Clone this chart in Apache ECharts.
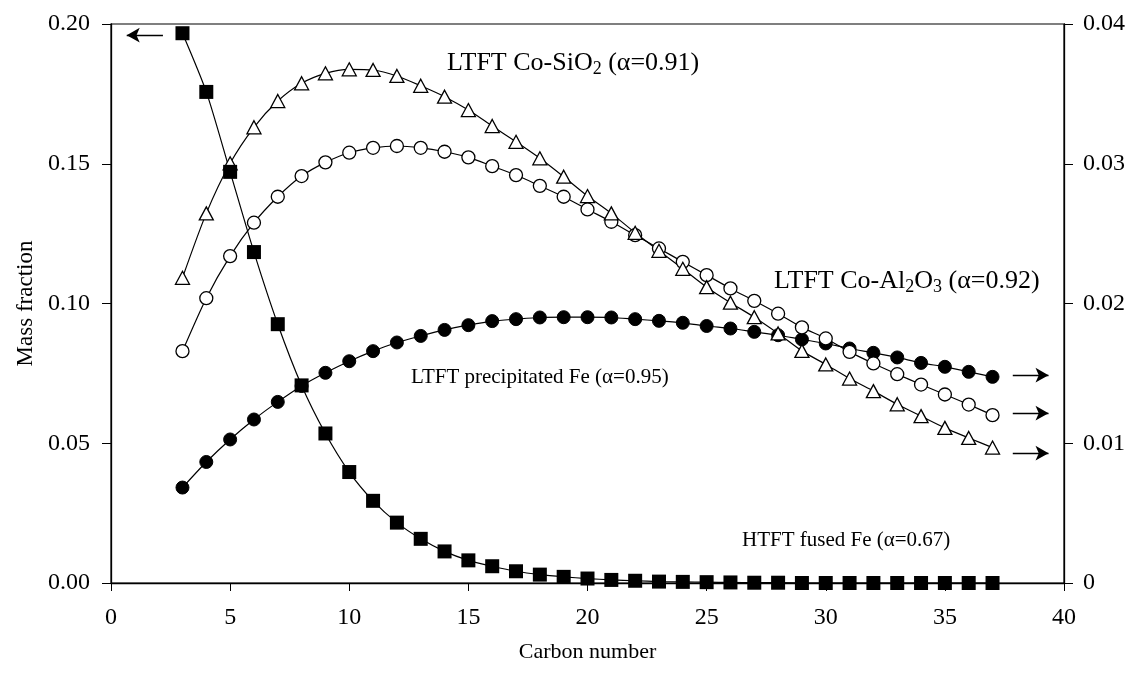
<!DOCTYPE html>
<html>
<head>
<meta charset="utf-8">
<script src="https://cdn.jsdelivr.net/npm/echarts@6/dist/echarts.min.js"></script>
<style>
html,body{margin:0;padding:0;background:#fff;}
#chart{width:1131px;height:673px;}
</style>
</head>
<body>
<div id="chart"></div>
<script>
// Carbon numbers
const carbon = [3,4,5,6,7,8,9,10,11,12,13,14,15,16,17,18,19,20,21,22,23,24,25,26,27,28,29,30,31,32,33,34,35,36,37];
// HTFT fused Fe (alpha=0.67) - left axis
const htftFusedFe = [0.1967,0.1757,0.1471,0.1184,0.0926,0.0707,0.0535,0.0397,0.0294,0.0216,0.0158,0.0113,0.0081,0.0060,0.0042,0.0030,0.0022,0.0016,0.0011,0.0008,0.0005,0.0004,0.0003,0.0002,0.0001,0.0001,0,0,0,0,0,0,0,0,0];
// LTFT Co-SiO2 (alpha=0.91) - right axis
const ltftCoSiO2 = [0.02184,0.02645,0.03003,0.03261,0.03449,0.03576,0.03647,0.03676,0.03671,0.03628,0.03558,0.03480,0.03384,0.03270,0.03157,0.03039,0.02907,0.02769,0.02645,0.02506,0.02377,0.02248,0.02117,0.02006,0.01902,0.01786,0.01661,0.01564,0.01463,0.01373,0.01279,0.01194,0.01110,0.01038,0.00969];
// LTFT Co-Al2O3 (alpha=0.92) - right axis
const ltftCoAl2O3 = [0.01659,0.02038,0.02339,0.02578,0.02764,0.02912,0.03010,0.03079,0.03114,0.03127,0.03114,0.03086,0.03046,0.02983,0.02919,0.02842,0.02764,0.02673,0.02585,0.02489,0.02394,0.02298,0.02203,0.02108,0.02019,0.01927,0.01829,0.01750,0.01654,0.01571,0.01494,0.01420,0.01349,0.01277,0.01201];
// LTFT precipitated Fe (alpha=0.95) - right axis
const ltftPrecipFe = [0.00683,0.00866,0.01027,0.01170,0.01296,0.01410,0.01504,0.01587,0.01659,0.01721,0.01768,0.01811,0.01845,0.01874,0.01888,0.01900,0.01902,0.01902,0.01900,0.01888,0.01876,0.01862,0.01839,0.01821,0.01797,0.01773,0.01743,0.01714,0.01678,0.01647,0.01614,0.01575,0.01547,0.01511,0.01475];

const xTicks = [0,5,10,15,20,25,30,35,40];
const leftTicks = ['0.00','0.05','0.10','0.15','0.20'];
const rightTicks = ['0','0.01','0.02','0.03','0.04'];

// arrow annotations (data coordinates): [x tail, x head, y]
const leftArrow = [2.18, 0.66, 0.196];
const rightArrows = [[37.85, 39.35, 0.01487],[37.85, 39.35, 0.01215],[37.85, 39.35, 0.00929]];

const FONT = 'Liberation Serif';
const toPairs = v => carbon.map((c,i)=>[c, v[i]]);

const chart = echarts.init(document.getElementById('chart'), null, {renderer:'canvas'});

const arrowLine = (a) => ({
  silent: true,
  symbol: ['none','arrow'],
  symbolSize: [11, 13],
  label: {show:false},
  lineStyle: {color:'#000', width:1.3, type:'solid'},
  emphasis: {disabled:true},
  data: a
});

const lineBase = {
  type: 'line',
  smooth: 0.25,
  animation: false,
  lineStyle: {color:'#000', width:1.2},
  emphasis: {disabled:true}
};

const subText = (x, y, fs, parts) => ({
  type: 'text', x: x, y: y,
  style: {
    text: parts, align: 'left', verticalAlign: 'middle',
    fill: '#000',
    rich: {
      a: {fontSize: fs, fontFamily: FONT, lineHeight: Math.round(fs*1.2), fill:'#000'},
      b: {fontSize: Math.round(fs*0.68), fontFamily: FONT, lineHeight: Math.round(fs*0.68), verticalAlign: 'bottom', fill:'#000'}
    }
  }
});

const option = {
  backgroundColor: '#fff',
  animation: false,
  grid: {left:111, right:67, top:24, bottom:90, show:true, borderColor:'#000', borderWidth:1.2, backgroundColor:'transparent'},
  xAxis: {
    type:'value', min:0, max:40, interval:5,
    name:'Carbon number', nameLocation:'middle', nameGap:58,
    nameTextStyle:{fontFamily:FONT, fontSize:22, color:'#000'},
    axisLine:{show:true, onZero:false, lineStyle:{color:'#000', width:1.3}},
    axisTick:{show:true, inside:false, length:8, lineStyle:{color:'#000', width:1}},
    axisLabel:{margin:23, fontFamily:FONT, fontSize:24, color:'#000',
      formatter: v => { const i = xTicks.indexOf(v); return i>=0 ? String(xTicks[i]) : ''; }},
    splitLine:{show:false}
  },
  yAxis: [
    {
      type:'value', min:0, max:0.2, interval:0.05, position:'left',
      name:'Mass fraction', nameLocation:'middle', nameGap:73, nameRotate:90,
      nameTextStyle:{fontFamily:FONT, fontSize:23, color:'#000'},
      axisLine:{show:true, lineStyle:{color:'#000', width:1.3}},
      axisTick:{show:true, inside:false, length:9, lineStyle:{color:'#000', width:1}},
      axisLabel:{margin:21, fontFamily:FONT, fontSize:24, color:'#000',
        formatter: v => leftTicks[Math.round(v/0.05)]},
      splitLine:{show:false}
    },
    {
      type:'value', min:0, max:0.04, interval:0.01, position:'right',
      axisLine:{show:true, lineStyle:{color:'#000', width:1.3}},
      axisTick:{show:true, inside:false, length:9, lineStyle:{color:'#000', width:1}},
      axisLabel:{margin:19, fontFamily:FONT, fontSize:24, color:'#000',
        formatter: v => rightTicks[Math.round(v/0.01)]},
      splitLine:{show:false}
    }
  ],
  series: [
    Object.assign({}, lineBase, {
      name:'LTFT precipitated Fe', yAxisIndex:1, data: toPairs(ltftPrecipFe),
      symbol:'circle', symbolSize:13,
      itemStyle:{color:'#000', borderColor:'#000', borderWidth:1},
      markLine: arrowLine([[{coord:[rightArrows[0][0], rightArrows[0][2]]},{coord:[rightArrows[0][1], rightArrows[0][2]]}]])
    }),
    Object.assign({}, lineBase, {
      name:'LTFT Co-Al2O3', yAxisIndex:1, data: toPairs(ltftCoAl2O3),
      symbol:'circle', symbolSize:13,
      itemStyle:{color:'#fff', borderColor:'#000', borderWidth:1.3},
      markLine: arrowLine([[{coord:[rightArrows[1][0], rightArrows[1][2]]},{coord:[rightArrows[1][1], rightArrows[1][2]]}]])
    }),
    Object.assign({}, lineBase, {
      name:'LTFT Co-SiO2', yAxisIndex:1, data: toPairs(ltftCoSiO2),
      symbol:'triangle', symbolSize:[14,13],
      itemStyle:{color:'#fff', borderColor:'#000', borderWidth:1.3},
      markLine: arrowLine([[{coord:[rightArrows[2][0], rightArrows[2][2]]},{coord:[rightArrows[2][1], rightArrows[2][2]]}]])
    }),
    Object.assign({}, lineBase, {
      name:'HTFT fused Fe', yAxisIndex:0, data: toPairs(htftFusedFe),
      symbol:'rect', symbolSize:14,
      itemStyle:{color:'#000', borderColor:'#000', borderWidth:0},
      markLine: arrowLine([[{coord:[leftArrow[0], leftArrow[2]]},{coord:[leftArrow[1], leftArrow[2]]}]])
    })
  ],
  graphic: [
    subText(447, 63, 26, '{a|LTFT Co-SiO}{b|2}{a| (α=0.91)}'),
    subText(774, 281, 26, '{a|LTFT Co-Al}{b|2}{a|O}{b|3}{a| (α=0.92)}'),
    subText(411, 377, 21, '{a|LTFT precipitated Fe (α=0.95)}'),
    subText(742, 540, 21, '{a|HTFT fused Fe (α=0.67)}')
  ]
};
chart.setOption(option);
</script>
</body>
</html>
